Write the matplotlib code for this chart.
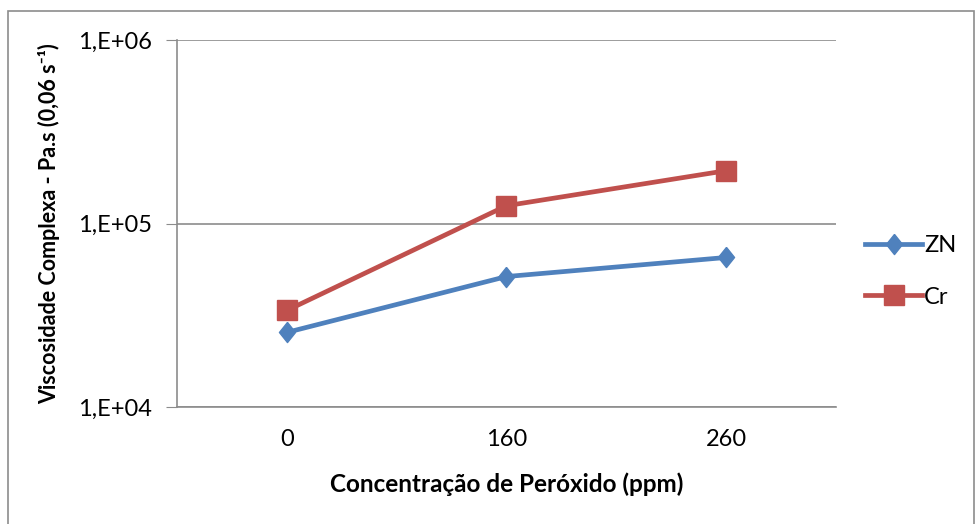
import matplotlib
matplotlib.use("Agg")
import matplotlib.pyplot as plt
from matplotlib.patches import Rectangle
from matplotlib.ticker import FixedLocator, NullLocator

plt.rcParams['font.family'] = ['Lato', 'DejaVu Sans']

# peroxide concentration (ppm) and complex viscosity (Pa.s at 0,06 1/s)
categories = ['0', '160', '260']
zn = [25500, 51400, 65300]
cr = [33600, 125000, 194000]

# slightly tall diamond marker
diamond = [(0, 1), (0.8, 0), (0, -1), (-0.8, 0), (0, 1)]

fig = plt.figure(figsize=(9.77, 5.24), dpi=100)
ax = fig.add_axes([177/977, 1-407/524, (836-177)/977, (407-40)/524])

xs = range(len(categories))
ax.plot(xs, zn, color='#4F81BD', lw=3.4, marker=diamond, ms=14.5, label='ZN')
ax.plot(xs, cr, color='#C0504D', lw=3.4, marker='s', ms=14, label='Cr')

ax.set_yscale('log')
ax.set_ylim(1e4, 1e6)
ax.set_xlim(-0.5, 2.5)
ax.yaxis.set_major_locator(FixedLocator([1e4, 1e5, 1e6]))
ax.yaxis.set_minor_locator(NullLocator())
ax.set_yticklabels(['1,E+04', '1,E+05', '1,E+06'])
ax.set_xticks(list(xs))
ax.set_xticklabels(categories)

ax.grid(axis='y', color='#8C8C8C', lw=1.2)
ax.set_axisbelow(True)
for s in ['top', 'right']:
    ax.spines[s].set_visible(False)
ax.spines['left'].set_color('#8C8C8C')
ax.spines['bottom'].set_color('#8C8C8C')
ax.spines['left'].set_linewidth(1.2)
ax.spines['bottom'].set_linewidth(1.2)
ax.tick_params(axis='y', length=8, color='#8C8C8C', labelsize=17, pad=10)
ax.tick_params(axis='x', length=0, labelsize=17, pad=16)

ax.set_xlabel('Concentração de Peróxido (ppm)', fontsize=17.5, fontweight='bold', labelpad=16)
ax.set_ylabel('Viscosidade Complexa - Pa.s (0,06 s\u207b\u00b9)', fontsize=15.5,
              fontweight='bold', labelpad=13)

ax.legend(loc='center left', bbox_to_anchor=(1.03, 0.37), frameon=False,
          borderaxespad=0, fontsize=17, handlelength=2.4, handletextpad=0.1,
          labelspacing=1.3)

# chart border
fig.patches.append(Rectangle((8/977, -0.01), 966/977, 1 - 11/524 + 0.01,
                             transform=fig.transFigure, fill=False,
                             edgecolor='#8C8C8C', lw=1.2))

fig.savefig('out.png', dpi=100)
